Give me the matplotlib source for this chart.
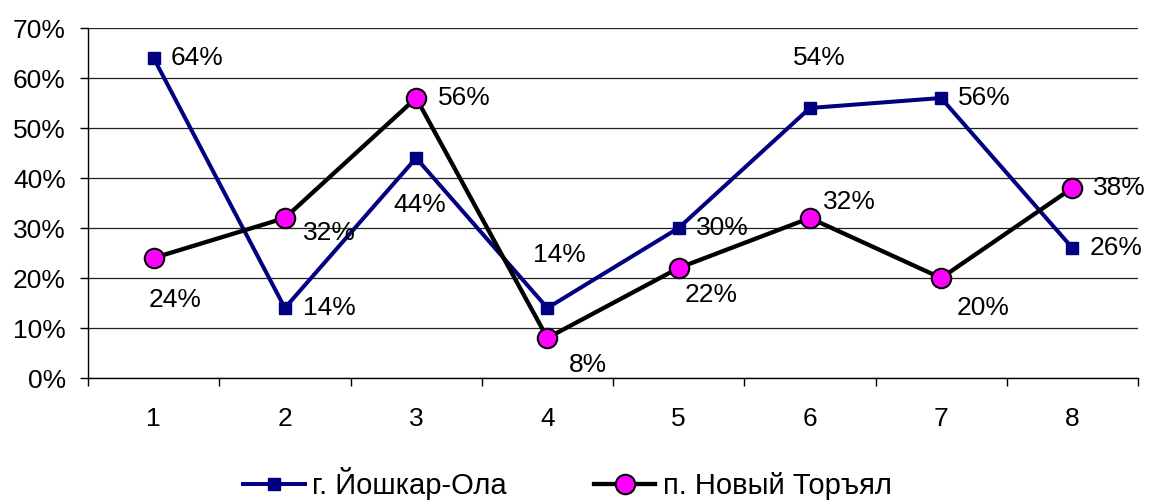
import matplotlib.pyplot as plt
import numpy as np

plt.rcParams['font.family'] = ['Liberation Sans', 'DejaVu Sans']

# data
cats = [1, 2, 3, 4, 5, 6, 7, 8]
yoshkar = [64, 14, 44, 14, 30, 54, 56, 26]    # г. Йошкар-Ола
toryal = [24, 32, 56, 8, 22, 32, 20, 38]      # п. Новый Торъял
yticks = [0, 10, 20, 30, 40, 50, 60, 70]

# label offsets in pixels (left edge of text, from the point)
off_yoshkar = [(17, 0), (18, 0), (-23, -47), (-14, 53), (17, 0), (-17, 50), (17, 0), (17, 0)]
off_toryal = [(-5, -42), (18, -15), (22, 0), (21, -27), (6, -27), (13, 16), (16, -30), (21, 0)]

fs = 19

fig = plt.figure(figsize=(11.51, 5.0), dpi=100)
ax = fig.add_axes([88/1151, 122/500, (1138-88)/1151, 350/500])

ax.plot(cats, yoshkar, color='#000080', lw=2.9, marker='s', ms=9,
        mfc='#000080', mec='#000080', label='г. Йошкар-Ола', zorder=3)
ax.plot(cats, toryal, color='black', lw=3.1, marker='o', ms=14,
        mfc='#ff00ff', mec='black', mew=1.5, label='п. Новый Торъял', zorder=4)

for x, y, o in zip(cats, yoshkar, off_yoshkar):
    ax.annotate(f"{y}%", (x, y), xytext=o, textcoords='offset pixels',
                ha='left', va='center', fontsize=fs, zorder=5)
for x, y, o in zip(cats, toryal, off_toryal):
    ax.annotate(f"{y}%", (x, y), xytext=o, textcoords='offset pixels',
                ha='left', va='center', fontsize=fs, zorder=5)

ax.set_xlim(0.5, 8.5)
ax.set_ylim(0, 70)
ax.set_yticks(yticks)
ax.set_yticklabels([f"{t}%" for t in yticks], fontsize=fs)
ax.set_xticks(cats)
ax.set_xticklabels([str(c) for c in cats], fontsize=fs)
ax.set_xticks(np.arange(0.5, 9, 1), minor=True)
ax.tick_params(axis='x', which='major', length=0, pad=21)
ax.tick_params(axis='x', which='minor', length=6, width=1, direction='out')
ax.tick_params(axis='y', length=6, width=1, pad=10)

ax.grid(axis='y', color='#222222', lw=0.9)
ax.set_axisbelow(True)
for s in ['top', 'right']:
    ax.spines[s].set_visible(False)
ax.spines['left'].set_linewidth(1)
ax.spines['bottom'].set_linewidth(1)

fig.legend(loc='center', bbox_to_anchor=(0.493, 0.032), ncol=2, frameon=False,
           fontsize=21, handlelength=2.1, handletextpad=0.25, columnspacing=3.0)

fig.savefig('out.png', dpi=100)
